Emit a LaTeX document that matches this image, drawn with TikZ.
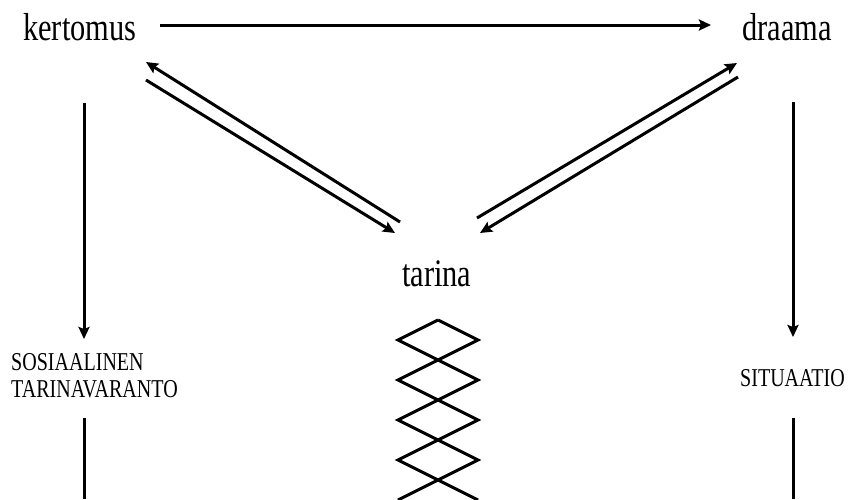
\documentclass[tikz,border=0pt]{standalone}
\usepackage{fontspec}
\setmainfont{Liberation Serif}[FakeStretch=0.78]
\usetikzlibrary{arrows.meta}
\begin{document}
\begin{tikzpicture}[x=1pt,y=-1pt,
  link/.style={line width=3pt,-{Stealth[length=12pt,width=11pt,inset=2pt]}},
  bare/.style={line width=3pt},
  bigword/.style={inner sep=0pt,anchor=base west,font=\fontsize{39}{39}\selectfont},
  smallword/.style={inner sep=0pt,anchor=base west,align=left,font=\fontsize{25.7}{27}\selectfont}]
\useasboundingbox (0,0) rectangle (849,499);

% the three main terms
\node[bigword] (kertomus) at (23,40) {kertomus};
\node[bigword] (draama) at (742,40) {draama};
\node[bigword] (tarina) at (402,286) {tarina};

% the two lower labels (base anchor sits on the last line)
\node[smallword] (varanto) at (11,397) {SOSIAALINEN\\TARINAVARANTO};
\node[smallword] (situaatio) at (740,386) {SITUAATIO};

% connector end points
\coordinate (hA) at (160,25);
\coordinate (hB) at (711,25);
\coordinate (lA) at (84,103);
\coordinate (lB) at (84,339);
\coordinate (lC) at (84,418);
\coordinate (lD) at (84,499);
\coordinate (rA) at (793,102);
\coordinate (rB) at (793,337);
\coordinate (rC) at (793,418);
\coordinate (rD) at (793,499);
\coordinate (d1a) at (400,222);
\coordinate (d1b) at (146,62);
\coordinate (d2a) at (146,80);
\coordinate (d2b) at (395,233);
\coordinate (d3a) at (477,218);
\coordinate (d3b) at (737,63);
\coordinate (d4a) at (738,77);
\coordinate (d4b) at (480,233);

% kertomus -> draama
\draw[link] (hA) -- (hB);
% vertical links down to the lower labels and below them
\draw[link] (lA) -- (lB);
\draw[bare] (lC) -- (lD);
\draw[link] (rA) -- (rB);
\draw[bare] (rC) -- (rD);
% paired diagonals between tarina and the two upper terms
\draw[link] (d1a) -- (d1b);
\draw[link] (d2a) -- (d2b);
\draw[link] (d3a) -- (d3b);
\draw[link] (d4a) -- (d4b);

% braid of two zigzags below tarina
\coordinate (zTop) at (438,320);
\draw[bare,line join=miter] (zTop) -- (398,340) -- (478,380) -- (398,420) -- (478,460) -- (398,500);
\draw[bare,line join=miter] (zTop) -- (478,340) -- (398,380) -- (478,420) -- (398,460) -- (478,500);
\end{tikzpicture}
\end{document}
